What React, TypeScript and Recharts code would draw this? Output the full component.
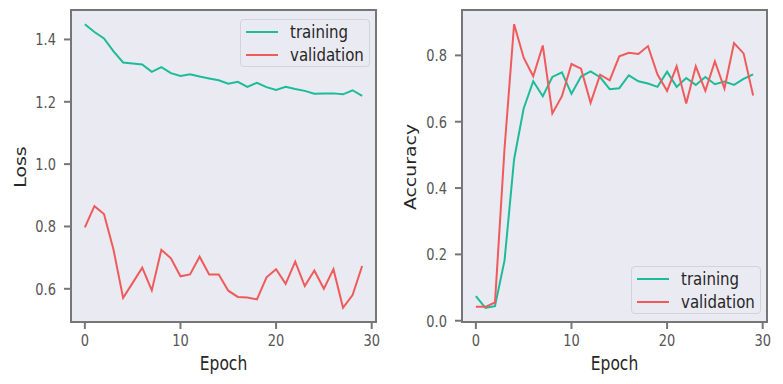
import React from "react";
import {
  CartesianGrid,
  Legend,
  Line,
  LineChart,
  ReferenceArea,
  XAxis,
  YAxis,
} from "recharts";

const epochs = Array.from({ length: 30 }, (_, i) => i);

const trainLoss = [
  1.449, 1.424, 1.403, 1.362, 1.326, 1.323, 1.32, 1.296, 1.311, 1.292, 1.283,
  1.288, 1.281, 1.275, 1.269, 1.258, 1.264, 1.248, 1.261, 1.247, 1.238, 1.248,
  1.241, 1.235, 1.226, 1.227, 1.227, 1.224, 1.237, 1.219,
];
const valLoss = [
  0.797, 0.865, 0.84, 0.725, 0.571, 0.619, 0.668, 0.595, 0.725, 0.698, 0.64,
  0.646, 0.703, 0.646, 0.646, 0.594, 0.574, 0.572, 0.566, 0.637, 0.663, 0.616,
  0.687, 0.609, 0.659, 0.6, 0.663, 0.539, 0.58, 0.673,
];
const trainAcc = [
  0.074, 0.039, 0.044, 0.182, 0.487, 0.64, 0.722, 0.677, 0.735, 0.749, 0.684,
  0.736, 0.752, 0.734, 0.698, 0.701, 0.74, 0.722, 0.715, 0.705, 0.751, 0.705,
  0.732, 0.711, 0.735, 0.713, 0.721, 0.711, 0.729, 0.743,
];
const valAcc = [
  0.042, 0.042, 0.055, 0.52, 0.894, 0.793, 0.737, 0.83, 0.625, 0.677, 0.774,
  0.76, 0.657, 0.742, 0.725, 0.797, 0.808, 0.804, 0.828, 0.742, 0.693, 0.767,
  0.655, 0.767, 0.693, 0.782, 0.7, 0.837, 0.806, 0.679,
];

const xTicks = [0, 10, 20, 30];
const lossTicks = [0.6, 0.8, 1.0, 1.2, 1.4];
const accTicks = [0.0, 0.2, 0.4, 0.6, 0.8];

const lossData = epochs.map((e, i) => ({
  epoch: e,
  training: trainLoss[i],
  validation: valLoss[i],
}));
const accData = epochs.map((e, i) => ({
  epoch: e,
  training: trainAcc[i],
  validation: valAcc[i],
}));

const X_DOMAIN = [-1.45, 30.45];
const GREEN = "#1dbc98";
const RED = "#ef5b5b";
const SPINE = "#767676";
const BG = "#eaeaf2";
const FONT = "DejaVu Sans";
const STRETCH = 1.22;

const XTick = (props: any) => (
  <text
    transform={`translate(${props.x},${props.y}) scale(1,${STRETCH})`}
    y={12.1}
    textAnchor="middle"
    fill="#555"
    fontSize={13}
    fontFamily={FONT}
  >
    {props.payload.value}
  </text>
);

const YTick = (props: any) => (
  <text
    transform={`translate(${props.x},${props.y}) scale(1,${STRETCH})`}
    y={4.8}
    textAnchor="end"
    fill="#555"
    fontSize={13}
    fontFamily={FONT}
  >
    {Number(props.payload.value).toFixed(1)}
  </text>
);

const XLabel = (props: any) => {
  const vb = props.viewBox;
  return (
    <text
      transform={`translate(${vb.x + vb.width / 2},370) scale(1,${STRETCH})`}
      textAnchor="middle"
      fill="#262626"
      fontSize={15.5}
      fontFamily={FONT}
    >
      Epoch
    </text>
  );
};

const makeYLabel = (text: string, cx: number) => (props: any) => {
  const vb = props.viewBox;
  return (
    <text
      transform={`translate(${cx},${vb.y + vb.height / 2 + 1}) rotate(-90) scale(${STRETCH},1)`}
      textAnchor="middle"
      fill="#262626"
      fontSize={15.5}
      fontFamily={FONT}
    >
      {text}
    </text>
  );
};

const LegendBox = () => (
  <div
    style={{
      width: 130,
      height: 48,
      boxSizing: "border-box",
      border: "1px solid #d3d3d8",
      borderRadius: 4,
      background: BG,
      fontFamily: FONT,
      fontSize: 15,
      color: "#262626",
      padding: "0 0 0 5px",
    }}
  >
    {[
      { name: "training", color: GREEN },
      { name: "validation", color: RED },
    ].map((item) => (
      <div
        key={item.name}
        style={{ display: "flex", alignItems: "center", height: 23 }}
      >
        <svg width={32} height={4} style={{ marginRight: 12 }}>
          <line x1={0} y1={2} x2={32} y2={2} stroke={item.color} strokeWidth={2} />
        </svg>
        <span style={{ display: "inline-block", transform: `scaleY(${STRETCH})` }}>
          {item.name}
        </span>
      </div>
    ))}
  </div>
);

const Panel = ({
  data,
  yDomain,
  yTicks,
  yLabel,
  yLabelX,
  yAxisWidth,
  margin,
  width,
  legendPos,
}: any) => (
  <LineChart width={width} height={384} data={data} margin={margin}>
    <CartesianGrid horizontal={false} vertical={false} fill={BG} />
    <XAxis
      dataKey="epoch"
      type="number"
      domain={X_DOMAIN}
      ticks={xTicks}
      allowDataOverflow
      height={62}
      tickSize={7}
      tickMargin={2}
      stroke={SPINE}
      strokeWidth={2}
      tick={<XTick />}
      label={<XLabel />}
    />
    <YAxis
      type="number"
      domain={yDomain}
      ticks={yTicks}
      allowDataOverflow
      width={yAxisWidth}
      tickSize={7}
      tickMargin={8}
      stroke={SPINE}
      strokeWidth={2}
      tick={<YTick />}
      label={{ content: makeYLabel(yLabel, yLabelX) }}
    />
    <Line
      dataKey="training"
      stroke={GREEN}
      strokeWidth={2}
      dot={false}
      isAnimationActive={false}
    />
    <Line
      dataKey="validation"
      stroke={RED}
      strokeWidth={2}
      dot={false}
      isAnimationActive={false}
    />
    <ReferenceArea
      x1={X_DOMAIN[0]}
      x2={X_DOMAIN[1]}
      y1={yDomain[0]}
      y2={yDomain[1]}
      fill="none"
      stroke={SPINE}
      strokeWidth={2}
      ifOverflow="visible"
    />
    <Legend
      layout="horizontal"
      verticalAlign="middle"
      align="center"
      content={<LegendBox />}
      wrapperStyle={{
        position: "absolute",
        left: legendPos.left,
        top: legendPos.top,
        width: 130,
        height: 48,
        bottom: "auto",
      }}
    />
  </LineChart>
);

export default function App() {
  return (
    <div
      style={{
        position: "absolute",
        left: 0,
        top: 0,
        width: 783,
        height: 384,
        background: "#fff",
      }}
    >
      <div style={{ position: "absolute", left: 0, top: 0 }}>
        <Panel
          data={lossData}
          width={390}
          margin={{ top: 10, right: 14, bottom: 0, left: 11 }}
          yAxisWidth={60}
          yDomain={[0.4935, 1.4945]}
          yTicks={lossTicks}
          yLabel="Loss"
          yLabelX={25.5}
          legendPos={{ left: 240, top: 19 }}
        />
      </div>
      <div style={{ position: "absolute", left: 390, top: 0 }}>
        <Panel
          data={accData}
          width={393}
          margin={{ top: 10, right: 16, bottom: 0, left: 10 }}
          yAxisWidth={62}
          yDomain={[-0.0038, 0.9368]}
          yTicks={accTicks}
          yLabel="Accuracy"
          yLabelX={25.5}
          legendPos={{ left: 241, top: 266 }}
        />
      </div>
    </div>
  );
}
